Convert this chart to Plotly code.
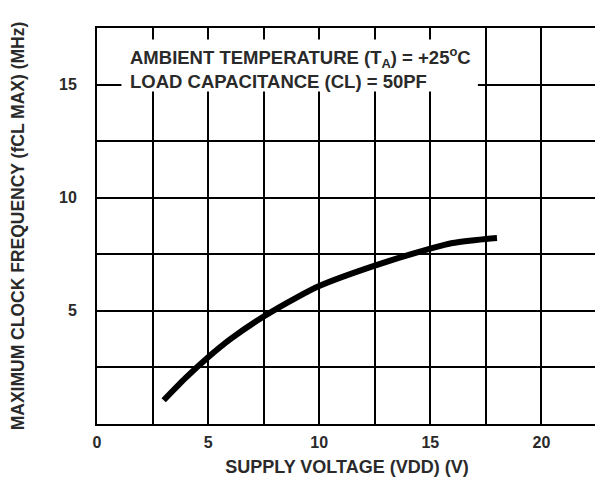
import plotly.graph_objects as go

# Data
vdd = [3.0, 4.0, 5.0, 6.0, 7.5, 9.0, 10.0, 12.5, 15.0, 16.0, 17.5, 18.0]
fmax = [1.05, 2.05, 2.95, 3.75, 4.75, 5.6, 6.1, 7.0, 7.75, 8.0, 8.18, 8.22]

x_tickvals = [0, 5, 10, 15, 20]
x_ticktext = ["0", "5", "10", "15", "20"]
y_tickvals = [5, 10, 15]
y_ticktext = ["5", "10", "15"]

note_lines = ["AMBIENT TEMPERATURE (T<sub>A</sub>) = +25<sup>o</sup>C",
              "LOAD CAPACITANCE (CL) = 50PF"]

font_family = "Liberation Sans, Arial, sans-serif"
text_color = "#2a2a2a"

fig = go.Figure()
fig.add_trace(go.Scatter(
    x=vdd, y=fmax, mode="lines",
    line=dict(color="black", width=6, shape="spline", smoothing=0.8),
    showlegend=False, hoverinfo="skip",
))

axis_common = dict(
    showgrid=True, gridcolor="black", gridwidth=1.5,
    minor=dict(dtick=2.5, showgrid=True, gridcolor="black", gridwidth=1.5, ticks=""),
    showline=True, linecolor="black", linewidth=2, mirror=True,
    zeroline=False, ticks="", fixedrange=True, automargin=False,
    tickfont=dict(family=font_family, size=16, color=text_color, weight="bold"),
)

fig.update_layout(
    width=595, height=479,
    margin=dict(l=89, r=6, t=20, b=63),
    paper_bgcolor="white", plot_bgcolor="white",
    xaxis=dict(range=[0, 22.5], tickmode="array", tickvals=x_tickvals,
               ticktext=x_ticktext, ticklabelstandoff=3,
               title=dict(text="SUPPLY VOLTAGE (VDD) (V)", standoff=10,
                          font=dict(family=font_family, size=18, color=text_color, weight="bold")),
               **axis_common),
    yaxis=dict(range=[0, 17.5], tickmode="array", tickvals=y_tickvals,
               ticktext=y_ticktext, ticklabelstandoff=15,
               title=dict(text="MAXIMUM CLOCK FREQUENCY (fCL MAX) (MHz)", standoff=30,
                          font=dict(family=font_family, size=17.5, color=text_color, weight="bold")),
               **axis_common),
)

fig.add_shape(type="rect", xref="x", yref="y", x0=1.1, x1=17.14, y0=14.69, y1=16.99,
              fillcolor="white", line=dict(width=0), layer="above")

fig.add_annotation(
    xref="x", yref="y", x=1.4, y=15.72, xanchor="left", yanchor="middle",
    text="<br>".join(note_lines), showarrow=False, align="left",
    font=dict(family=font_family, size=18.5, color=text_color, weight="bold"),
)

fig.write_html("out.html")
